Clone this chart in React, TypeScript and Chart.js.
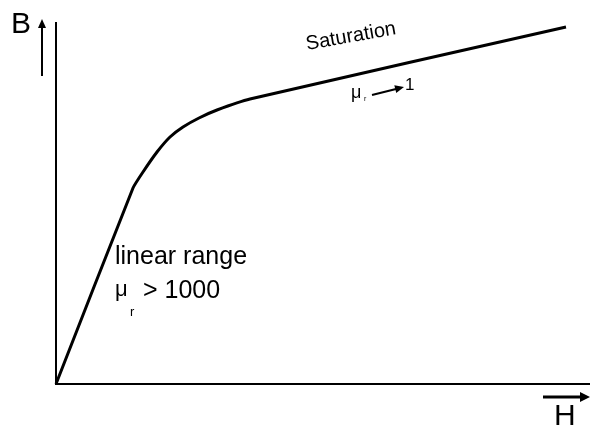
import React, { useEffect, useRef } from "react";
import { Chart, registerables } from "chart.js";

Chart.register(...registerables);

// Magnetisation curve B(H): steep linear rise, knee, then a shallow saturation line
const hValues = [0, 77, 87, 101, 114, 127, 143, 161, 194, 510];
const bValues = [0, 196, 212, 232, 247, 257, 266, 274, 285, 357];
const H_MAX = 534;
const B_MAX = 361;

const FONT = "'Liberation Sans', Arial, sans-serif";

function arrowHead(ctx: CanvasRenderingContext2D, x1: number, y1: number, x2: number, y2: number, len: number, half: number) {
  const a = Math.atan2(y2 - y1, x2 - x1);
  ctx.beginPath();
  ctx.moveTo(x2, y2);
  ctx.lineTo(x2 - len * Math.cos(a) + half * Math.sin(a), y2 - len * Math.sin(a) - half * Math.cos(a));
  ctx.lineTo(x2 - len * Math.cos(a) - half * Math.sin(a), y2 - len * Math.sin(a) + half * Math.cos(a));
  ctx.closePath();
  ctx.fill();
}

function arrow(ctx: CanvasRenderingContext2D, x1: number, y1: number, x2: number, y2: number, w: number, len: number, half: number) {
  const a = Math.atan2(y2 - y1, x2 - x1);
  ctx.lineWidth = w;
  ctx.beginPath();
  ctx.moveTo(x1, y1);
  ctx.lineTo(x2 - len * 0.8 * Math.cos(a), y2 - len * 0.8 * Math.sin(a));
  ctx.stroke();
  arrowHead(ctx, x1, y1, x2, y2, len, half);
}

const labelsPlugin = {
  id: "bhLabels",
  afterDraw(chart: Chart) {
    const ctx = chart.ctx;
    const { left, top, right, bottom } = chart.chartArea;
    ctx.save();
    ctx.fillStyle = "#000";
    ctx.strokeStyle = "#000";
    ctx.textBaseline = "alphabetic";

    // axis names with direction arrows
    ctx.font = `30px ${FONT}`;
    ctx.textAlign = "left";
    ctx.fillText("B", left - 45, top + 10);
    arrow(ctx, left - 14, top + 53, left - 14, top - 4, 2, 9, 4);

    ctx.fillText("H", right - 36, bottom + 41);
    arrow(ctx, right - 47, bottom + 13, right, bottom + 13, 3, 10, 5);

    // saturation region
    ctx.save();
    ctx.translate(307, 50);
    ctx.rotate(-10 * Math.PI / 180);
    ctx.font = `20px ${FONT}`;
    ctx.fillText("Saturation", 0, 0);
    ctx.restore();

    ctx.font = `18px ${FONT}`;
    ctx.fillText("\u03bc", 351, 98);
    ctx.font = `7px ${FONT}`;
    ctx.fillText("r", 364, 101);
    arrow(ctx, 372, 95, 404, 87, 2, 9, 4);
    ctx.font = `17px ${FONT}`;
    ctx.fillText("1", 405, 90);

    // linear range
    ctx.font = `25px ${FONT}`;
    ctx.fillText("linear range", 115, 264);
    ctx.font = `22px ${FONT}`;
    ctx.fillText("\u03bc", 115, 296);
    ctx.font = `25px ${FONT}`;
    ctx.fillText("> 1000", 143, 298);
    ctx.font = `13px ${FONT}`;
    ctx.fillText("r", 130, 316);

    ctx.restore();
  },
};

export default function App() {
  const ref = useRef<HTMLCanvasElement | null>(null);

  useEffect(() => {
    if (!ref.current) return;
    const chart = new Chart(ref.current, {
      type: "scatter",
      data: {
        datasets: [
          {
            data: hValues.map((h, i) => ({ x: h, y: bValues[i] })),
            showLine: true,
            borderColor: "#000",
            borderWidth: 3,
            pointRadius: 0,
            tension: 0.15,
            fill: false,
            clip: 4,
          },
        ],
      },
      options: {
        animation: false,
        responsive: false,
        events: [],
        layout: { padding: { left: 56, top: 23, right: 0, bottom: 46 } },
        plugins: { legend: { display: false }, tooltip: { enabled: false } },
        scales: {
          x: {
            type: "linear",
            min: 0,
            max: H_MAX,
            grid: { display: false, drawTicks: false },
            ticks: { display: false },
            border: { display: true, color: "#000", width: 2 },
          },
          y: {
            type: "linear",
            min: 0,
            max: B_MAX,
            grid: { display: false, drawTicks: false },
            ticks: { display: false },
            border: { display: true, color: "#000", width: 2 },
          },
        },
      },
      plugins: [labelsPlugin],
    });
    return () => chart.destroy();
  }, []);

  return (
    <div style={{ position: "fixed", left: 0, top: 0, width: 590, height: 430, background: "#fff" }}>
      <canvas ref={ref} width={590} height={430} style={{ width: 590, height: 430 }} />
    </div>
  );
}
